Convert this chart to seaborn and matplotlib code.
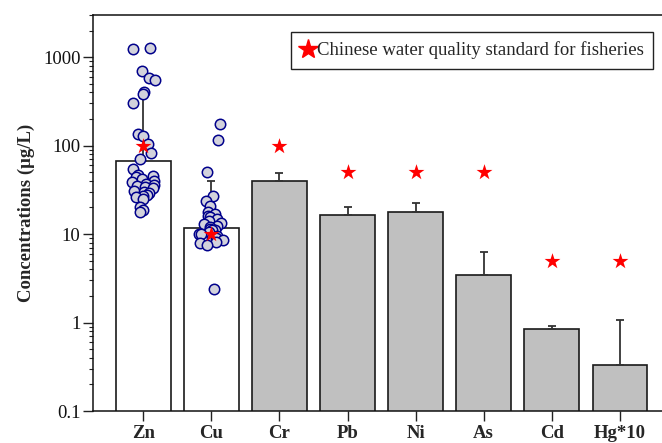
import numpy as np
import pandas as pd
import matplotlib
matplotlib.use("Agg")
import matplotlib.pyplot as plt
import seaborn as sns
from matplotlib.ticker import LogLocator, FixedLocator, FixedFormatter, NullFormatter
from matplotlib.lines import Line2D

# ---------------- data ----------------
metals = ["Zn", "Cu", "Cr", "Pb", "Ni", "As", "Cd", "Hg*10"]
mean_conc = [67, 11.8, 40, 16.3, 17.9, 3.45, 0.84, 0.33]
upper_err = [347, 40, 49.5, 20.2, 22.2, 6.2, 0.91, 1.08]
standard = [100, 10, 100, 50, 50, 50, 5, 5]
zn_samples = [1230, 1265, 695, 580, 550, 400, 385, 300, 135, 130, 105, 83, 70, 54,
              47, 45, 44, 42, 40, 39, 37, 36, 35, 34, 33, 31, 30, 29, 28, 27, 26, 25,
              20, 18.5, 18]
cu_samples = [175, 116, 50, 27, 23.5, 21, 18, 17, 16, 15.5, 15, 14, 13.5, 13, 12.5,
              12, 11.5, 11, 11, 10.5, 10, 10, 9.5, 9, 9, 8.5, 8.2, 8, 7.6, 2.4]
legend_label = "Chinese water quality standard for fisheries"
y_label = "Concentrations (\u03bcg/L)"
y_ticks = [0.1, 1, 10, 100, 1000]
y_ticklabels = ["0.1", "1", "10", "100", "1000"]

# ---------------- style ----------------
sns.set_theme(style="ticks")
plt.rcParams["font.family"] = ["Liberation Serif", "DejaVu Serif"]
plt.rcParams["mathtext.fontset"] = "stix"

bar_colors = ["white", "white"] + ["#c0c0c0"] * 6

fig = plt.figure(figsize=(6.62, 4.43), dpi=100)
ax = fig.add_axes([93 / 662, 1 - 411 / 443, (666 - 93) / 662, (411 - 15) / 443])
ax.set_yscale("log")

sns.barplot(x=metals, y=mean_conc, order=metals, hue=metals, palette=bar_colors,
            legend=False, width=0.8, edgecolor="#1a1a1a", linewidth=1.2,
            errorbar=None, ax=ax, zorder=2)

pos = np.arange(len(metals))
means = np.array(mean_conc)
ax.errorbar(pos, means, yerr=[np.zeros_like(means), np.array(upper_err) - means],
            fmt="none", ecolor="#333333", elinewidth=1.3, capsize=3.0,
            capthick=1.3, zorder=3)

pts = pd.DataFrame({
    "metal": ["Zn"] * len(zn_samples) + ["Cu"] * len(cu_samples),
    "value": zn_samples + cu_samples,
})
np.random.seed(7)
sns.stripplot(data=pts, x="metal", y="value", order=metals, jitter=0.18,
              color="#d2d2dc", edgecolor="#00008b", linewidth=1.1, size=7.5,
              ax=ax, zorder=4)

sns.stripplot(x=metals, y=standard, order=metals, jitter=False, marker="*",
              color="#ff0000", linewidth=0, size=12, ax=ax, zorder=5)

ax.set_xlim(-0.74, 7.68)
ax.set_ylim(0.1, 3000)

ax.yaxis.set_major_locator(FixedLocator(y_ticks))
ax.yaxis.set_major_formatter(FixedFormatter(y_ticklabels))
ax.yaxis.set_minor_locator(LogLocator(base=10, subs=np.arange(2, 10)))
ax.yaxis.set_minor_formatter(NullFormatter())

ax.tick_params(axis="y", which="major", direction="out", length=7, width=1.0,
               labelsize=13.5, color="#222222", labelcolor="#111111", pad=2)
ax.tick_params(axis="y", which="minor", direction="out", length=3, width=0.8,
               color="#222222")
ax.tick_params(axis="x", which="major", direction="out", length=7, width=1.0,
               labelsize=13.5, color="#222222", pad=3)
for lbl in ax.get_xticklabels():
    lbl.set_fontweight("bold")

ax.set_xlabel("")
ax.set_ylabel(y_label, fontsize=13.5, fontweight="bold", labelpad=6)

for s in ["left", "bottom", "top"]:
    ax.spines[s].set_visible(True)
    ax.spines[s].set_color("#111111")
    ax.spines[s].set_linewidth(1.1)
ax.spines["right"].set_visible(False)

handle = Line2D([], [], marker="*", color="#ff0000", linestyle="none", markersize=15)
leg = ax.legend(handles=[handle], labels=[legend_label], loc="upper right",
                bbox_to_anchor=(0.977, 0.957), borderaxespad=0, frameon=True,
                fancybox=False, framealpha=1, edgecolor="#222222",
                handlelength=0.8, handletextpad=0.05, borderpad=0.5,
                prop={"size": 13.5, "family": ["Liberation Serif"]})
leg.get_frame().set_linewidth(1.0)

fig.savefig("out.png", dpi=100)
